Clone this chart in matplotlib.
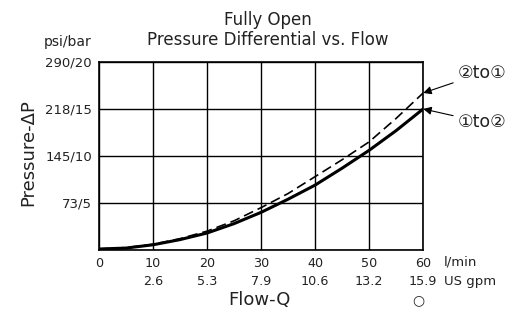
import matplotlib
matplotlib.use("Agg")
import matplotlib.pyplot as plt

flow = [0, 5, 10, 15, 20, 25, 30, 35, 40, 45, 50, 55, 60]
dp_1to2 = [0.1, 0.2, 0.55, 1.1, 1.8, 2.8, 4.0, 5.4, 6.9, 8.7, 10.6, 12.7, 15.0]
dp_2to1 = [0.1, 0.25, 0.6, 1.2, 2.0, 3.1, 4.5, 6.0, 7.8, 9.6, 11.5, 14.0, 16.7]

x_ticks = [0, 10, 20, 30, 40, 50, 60]
x_lpm_labels = ["0", "10", "20", "30", "40", "50", "60"]
x_gpm_labels = ["", "2.6", "5.3", "7.9", "10.6", "13.2", "15.9"]
y_ticks = [0, 5, 10, 15, 20]
y_labels = ["0", "73/5", "145/10", "218/15", "290/20"]

plt.rcParams['font.family'] = ['DejaVu Sans']
fig = plt.figure(figsize=(5.29, 3.16), dpi=100)
ax = fig.add_axes([0.187, 0.209, 0.613, 0.595])

ax.plot(flow, dp_2to1, color='black', lw=1.2, ls=(0, (6, 3)))
ax.plot(flow, dp_1to2, color='black', lw=2.2)

ax.set_xlim(0, 60)
ax.set_ylim(0, 20)
ax.set_xticks(x_ticks)
ax.set_yticks(y_ticks)
ax.set_xticklabels([f"{a}\n{b}" for a, b in zip(x_lpm_labels, x_gpm_labels)],
                   fontsize=9.2, color='#222222', linespacing=1.55)
ax.set_yticklabels(["" if l == "0" else l for l in y_labels], fontsize=9.5, color='#222222')
ax.tick_params(length=0, pad=5)
ax.grid(True, color='black', lw=1)
for s in ax.spines.values():
    s.set_linewidth(1.2)
ax.set_axisbelow(True)

fig.text(0.507, 0.937, "Fully Open", ha='center', va='center', fontsize=12, color='#222222')
fig.text(0.507, 0.873, "Pressure Differential vs. Flow", ha='center', va='center', fontsize=12, color='#222222')
fig.text(0.127, 0.866, "psi/bar", ha='center', va='center', fontsize=10, color='#222222')
fig.text(0.053, 0.516, "Pressure-ΔP", ha='center', va='center', rotation=90, fontsize=13, color='#222222')
fig.text(0.49, 0.05, "Flow-Q", ha='center', va='center', fontsize=13, color='#222222')
fig.text(0.79, 0.05, "○", ha='center', va='center', fontsize=10, color='#222222')
ax.text(63.8, -1.3, "l/min", ha='left', va='center', fontsize=9.5, color='#222222', clip_on=False)
ax.text(63.8, -3.4, "US gpm", ha='left', va='center', fontsize=9.5, color='#222222', clip_on=False)

ax.annotate("②to①", xy=(60, dp_2to1[-1]), xytext=(66.3, 18.8), fontsize=12.5, color='#222222',
            ha='left', va='center', annotation_clip=False,
            arrowprops=dict(arrowstyle='-|>', color='black', lw=0.8, mutation_scale=12, shrinkA=1, shrinkB=0))
ax.annotate("①to②", xy=(60, dp_1to2[-1]), xytext=(66.3, 13.6), fontsize=12.5, color='#222222',
            ha='left', va='center', annotation_clip=False,
            arrowprops=dict(arrowstyle='-|>', color='black', lw=0.8, mutation_scale=12, shrinkA=1, shrinkB=0))

fig.savefig("out.png", dpi=100)
